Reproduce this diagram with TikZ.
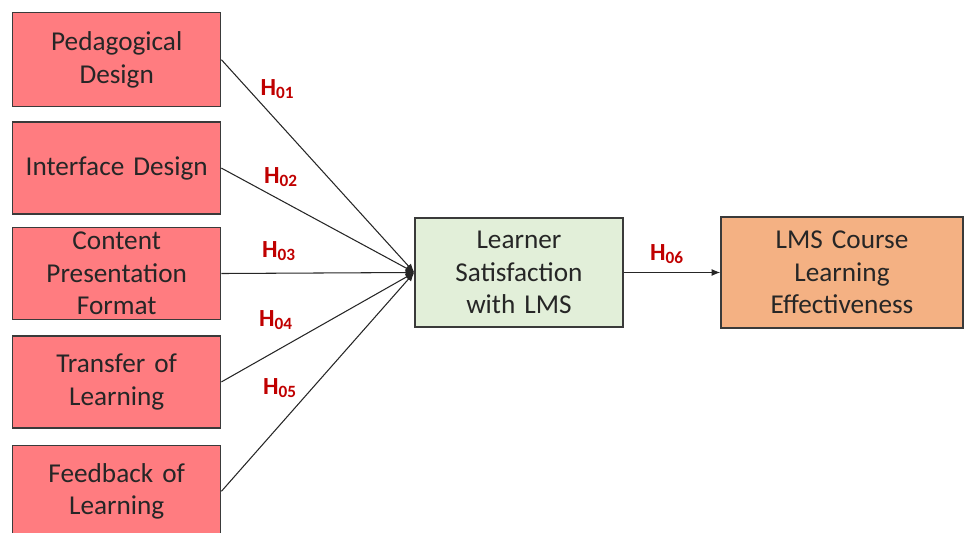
\documentclass[tikz,border=0pt]{standalone}
\usepackage{fontspec}
\setmainfont{Carlito}
\usepackage{xcolor}
\usetikzlibrary{arrows.meta,positioning}
\definecolor{factor}{HTML}{FF7C80}
\definecolor{satis}{HTML}{E2EFD9}
\definecolor{effect}{HTML}{F4B183}
\definecolor{hypred}{HTML}{C00000}
\definecolor{edge}{HTML}{3A3A3A}

\begin{document}
\begin{tikzpicture}[
    node distance = 0.28cm,
    box/.style = {rectangle, draw=edge, line width=0.8pt, fill=factor,
                  text width=4.0cm, align=center, minimum width=4.16cm,
                  minimum height=1.84cm, inner xsep=1pt, inner ysep=0pt,
                  text=black!85, font=\fontsize{15.5}{18.5}\selectfont},
    hyp/.style = {text=hypred, font=\fontsize{14}{16}\selectfont\bfseries, inner sep=0pt},
    arrow/.style = {-{Latex[length=5pt,width=4pt]}, line width=0.6pt, black!85}
  ]
    \useasboundingbox (0,0) rectangle (19.3,-10.66);
    % determinants
    \node[box, anchor=north west, minimum height=1.88cm] (pd) at (0.24,-0.24) {Pedagogical\\Design};
    \node[box, below=of pd] (id) {Interface Design};
    \node[box, below=0.24cm of id] (cp) {Content\\Presentation\\Format};
    \node[box, below=0.3cm of cp] (tl) {Transfer of\\Learning};
    \node[box, below=0.32cm of tl] (fl) {Feedback of\\Learning};
    % mediator and outcome
    \node[box, fill=satis, minimum height=2.18cm] (ls) at (10.38,-5.45)
         {Learner\\Satisfaction\\with LMS};
    \node[box, fill=effect, minimum width=4.84cm, text width=4.6cm,
          minimum height=2.22cm] (ce) at (16.84,-5.45)
         {LMS Course\\Learning\\Effectiveness};
    \draw[arrow] (pd.east) -- (ls.west);
    \draw[arrow] (id.east) -- (ls.west);
    \draw[arrow] (cp.east) -- (ls.west);
    \draw[arrow] (tl.east) -- (ls.west);
    \draw[arrow] (fl.east) -- (ls.west);
    \draw[arrow] (ls.east) -- (ce.west);
    % hypothesis labels
    \node[hyp] (h1) at (5.55,-1.78) {H\textsubscript{01}};
    \node[hyp] (h2) at (5.62,-3.54) {H\textsubscript{02}};
    \node[hyp] (h3) at (5.58,-5.02) {H\textsubscript{03}};
    \node[hyp] (h4) at (5.52,-6.40) {H\textsubscript{04}};
    \node[hyp] (h5) at (5.60,-7.76) {H\textsubscript{05}};
    \node[hyp] (h6) at (13.34,-5.08) {H\textsubscript{06}};
  \end{tikzpicture}
\end{document}
